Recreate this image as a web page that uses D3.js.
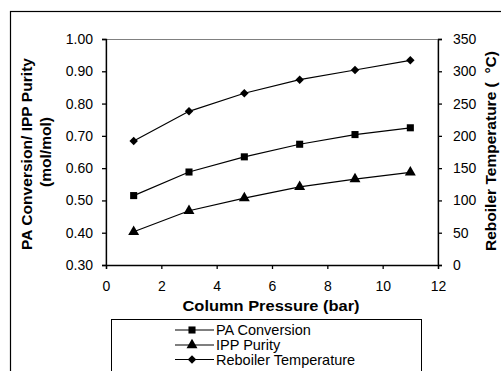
<!DOCTYPE html>
<html><head><meta charset="utf-8">
<script src="https://cdn.jsdelivr.net/npm/d3@7"></script>
<style>
body{margin:0;background:#fff;}
text{font-family:"Liberation Sans",Arial,sans-serif;fill:#000;}
</style></head>
<body>
<svg id="c" width="501" height="371"></svg>
<script>
const pressure = [1, 3, 5, 7, 9, 11];
const paConversion = [0.515, 0.588, 0.635, 0.674, 0.704, 0.725];
const ippPurity = [0.403, 0.468, 0.507, 0.542, 0.566, 0.587];
const reboilerTemp = [192, 238, 266, 287, 302, 317];
const xTicks = [0, 2, 4, 6, 8, 10, 12];
const yLeftTicks = [0.30, 0.40, 0.50, 0.60, 0.70, 0.80, 0.90, 1.00];
const yRightTicks = [0, 50, 100, 150, 200, 250, 300, 350];
const seriesNames = ["PA Conversion", "IPP Purity", "Reboiler Temperature"];

const svg = d3.select("#c");
const L = 106, R = 438, T = 39, B = 265;
const x = d3.scaleLinear().domain([0, 12]).range([L, R]);
const yL = d3.scaleLinear().domain([0.3, 1.0]).range([B, T]);
const yR = d3.scaleLinear().domain([0, 350]).range([B, T]);

// outer border
svg.append("rect").attr("x", 10.5).attr("y", 11.5).attr("width", 520).attr("height", 400)
  .attr("fill", "none").attr("stroke", "#000").attr("stroke-width", 1.2);

// plot area
svg.append("rect").attr("x", L).attr("y", T + 0.5).attr("width", R - L).attr("height", B - T)
  .attr("fill", "none").attr("stroke", "#808080").attr("stroke-width", 1);

const fontTick = "14px";
const ax = svg.append("g").attr("transform", `translate(0,${B})`)
  .call(d3.axisBottom(x).tickValues(xTicks).tickSize(4).tickPadding(12).tickFormat(d3.format("d")));
const al = svg.append("g").attr("transform", `translate(${L},0)`)
  .call(d3.axisLeft(yL).tickValues(yLeftTicks).tickSize(4).tickPadding(9).tickFormat(d3.format(".2f")));
const ar = svg.append("g").attr("transform", `translate(${R},0)`)
  .call(d3.axisRight(yR).tickValues(yRightTicks).tickSize(4).tickPadding(11).tickFormat(d3.format("d")));
[ax, al, ar].forEach(g => {
  g.select(".domain").attr("stroke", "#000").attr("stroke-width", 1.3);
  g.selectAll(".tick line").attr("stroke", "#000").attr("stroke-width", 1.3);
  g.selectAll(".tick text").style("font-size", fontTick).style("font-family", "Liberation Sans, Arial, sans-serif").attr("fill", "#000");
});

// symbols
const diamondType = {
  draw(ctx, size) {
    const r = Math.sqrt(size / 2);
    ctx.moveTo(0, -r); ctx.lineTo(r, 0); ctx.lineTo(0, r); ctx.lineTo(-r, 0); ctx.closePath();
  }
};
const sym = {
  square: d3.symbol().type(d3.symbolSquare).size(50),
  triangle: d3.symbol().type(d3.symbolTriangle).size(52),
  diamond: d3.symbol().type(diamondType).size(36)
};
const line = (yScale, vals) => d3.line().x((d, i) => x(pressure[i])).y(d => yScale(d))(vals);
const series = [
  {vals: paConversion, scale: yL, s: sym.square},
  {vals: ippPurity, scale: yL, s: sym.triangle},
  {vals: reboilerTemp, scale: yR, s: sym.diamond}
];
series.forEach(se => {
  svg.append("path").attr("d", line(se.scale, se.vals)).attr("fill", "none").attr("stroke", "#000").attr("stroke-width", 1.2);
  svg.selectAll(null).data(se.vals).enter().append("path")
    .attr("d", se.s())
    .attr("transform", (d, i) => `translate(${x(pressure[i])},${se.scale(d)})`)
    .attr("fill", "#000");
});

// axis titles
svg.append("text").attr("x", 271).attr("y", 311).attr("text-anchor", "middle")
  .attr("textLength", 177).attr("lengthAdjust", "spacingAndGlyphs")
  .style("font-size", "14.5px").style("font-weight", "bold").text("Column Pressure (bar)");
svg.append("text").attr("transform", "translate(32,154) rotate(-90)").attr("text-anchor", "middle")
  .attr("textLength", 192).attr("lengthAdjust", "spacingAndGlyphs")
  .style("font-size", "15px").style("font-weight", "bold").text("PA Conversion/ IPP Purity");
svg.append("text").attr("transform", "translate(51,152) rotate(-90)").attr("text-anchor", "middle")
  .attr("textLength", 70).attr("lengthAdjust", "spacingAndGlyphs")
  .style("font-size", "15px").style("font-weight", "bold").text("(mol/mol)");
svg.append("text").attr("transform", "translate(496,151) rotate(-90)").attr("text-anchor", "middle")
  .attr("textLength", 200).attr("lengthAdjust", "spacingAndGlyphs")
  .style("font-size", "15px").style("font-weight", "bold").text("Reboiler Temperature (\u00A0\u00A0\u00B0C)");

// legend
const lg = svg.append("g");
lg.append("rect").attr("x", 111.5).attr("y", 319.5).attr("width", 310).attr("height", 80)
  .attr("fill", "#fff").attr("stroke", "#000").attr("stroke-width", 1);
const rowsY = [330, 345, 359.5];
const legSyms = [sym.square, sym.triangle, sym.diamond];
seriesNames.forEach((n, i) => {
  lg.append("line").attr("x1", 175).attr("x2", 214).attr("y1", rowsY[i]).attr("y2", rowsY[i]).attr("stroke", "#000").attr("stroke-width", 1.2);
  lg.append("path").attr("d", legSyms[i]()).attr("transform", `translate(192,${rowsY[i]})`).attr("fill", "#000");
  lg.append("text").attr("x", 216).attr("y", rowsY[i] + 5)
    .style("font-size", "14.5px").text(n);
});
</script>
</body></html>
